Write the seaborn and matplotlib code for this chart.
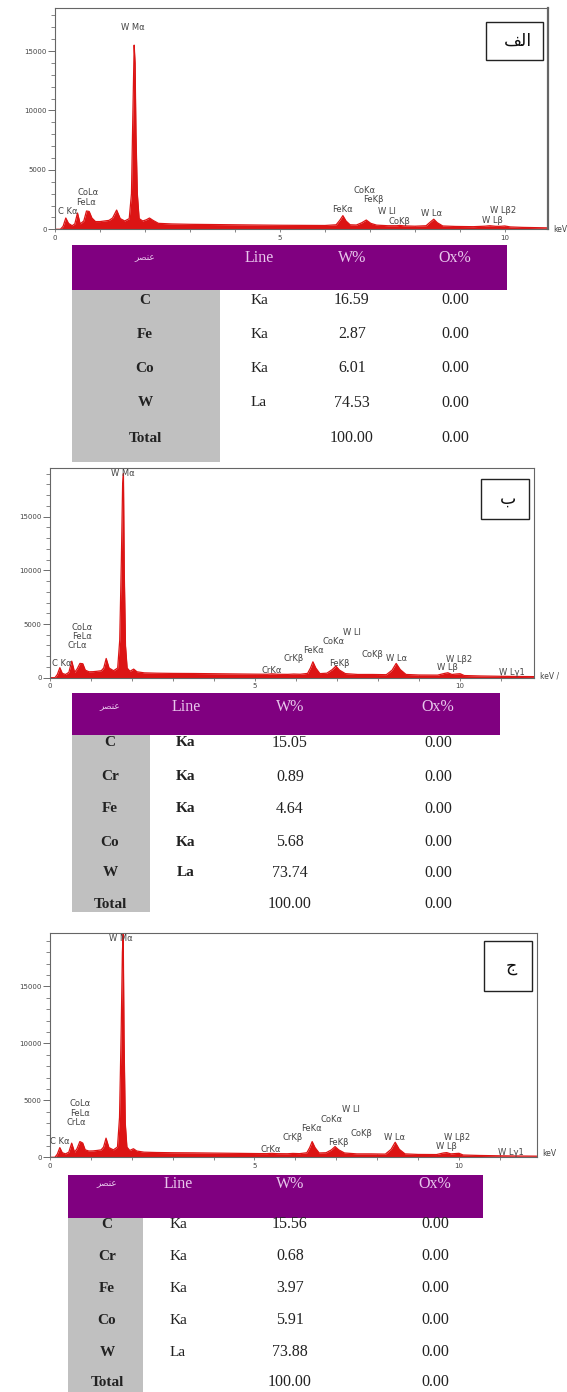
import matplotlib
matplotlib.use("Agg")
import matplotlib.pyplot as plt
from matplotlib.patches import Rectangle
from matplotlib.ticker import MultipleLocator
import seaborn as sns

# ---- spectrum (الف) : energy in keV, counts ----
kev_a = [0.00, 0.12, 0.18, 0.24, 0.30, 0.38, 0.44, 0.50, 0.56, 0.64, 0.70, 0.76,
         0.82, 0.90, 1.00, 1.10, 1.20, 1.28, 1.37, 1.45, 1.55, 1.65, 1.70, 1.73,
         1.76, 1.78, 1.80, 1.83, 1.87, 1.95, 2.03, 2.10, 2.18, 2.30, 2.60, 3.00,
         3.50, 4.00, 4.50, 5.00, 5.50, 6.00, 6.25, 6.33, 6.40, 6.47, 6.56, 6.70,
         6.82, 6.92, 7.02, 7.15, 7.40, 7.60, 7.66, 7.75, 8.00, 8.25, 8.34, 8.42,
         8.50, 8.62, 8.90, 9.30, 9.55, 9.67, 9.80, 9.90, 10.00, 10.12, 10.40, 10.96]
counts_a = [0, 0, 250, 950, 500, 300, 450, 1370, 450, 700, 1540, 1500,
            950, 650, 650, 700, 750, 950, 1620, 900, 700, 900, 3000, 9500,
            15500, 14000, 8000, 3000, 900, 700, 800, 950, 750, 500, 450, 420,
            400, 380, 360, 340, 330, 320, 380, 750, 1150, 700, 380, 360,
            550, 780, 500, 350, 300, 300, 330, 290, 260, 300, 600, 850,
            550, 280, 240, 220, 260, 300, 250, 250, 280, 200, 160, 120]

# ---- spectrum (ب) ----
kev_b = [0.00, 0.12, 0.18, 0.24, 0.30, 0.38, 0.46, 0.53, 0.60, 0.66, 0.73, 0.80,
         0.86, 0.95, 1.05, 1.15, 1.25, 1.31, 1.37, 1.44, 1.55, 1.65, 1.70, 1.74,
         1.77, 1.79, 1.81, 1.84, 1.88, 1.95, 2.04, 2.12, 2.30, 2.60, 3.00, 3.50,
         4.00, 4.50, 5.00, 5.30, 5.41, 5.55, 5.80, 5.94, 6.10, 6.28, 6.35, 6.41,
         6.48, 6.58, 6.75, 6.88, 6.97, 7.06, 7.20, 7.50, 7.86, 8.20, 8.34, 8.44,
         8.54, 8.68, 9.00, 9.45, 9.62, 9.70, 9.80, 9.92, 10.00, 10.10, 10.50, 11.00,
         11.25, 11.80]
counts_b = [0, 0, 300, 930, 400, 300, 500, 1540, 500, 800, 1330, 1300,
            700, 550, 560, 600, 650, 900, 1790, 900, 650, 900, 3500, 11000,
            17900, 19000, 10000, 3000, 900, 600, 800, 550, 450, 420, 400, 390,
            370, 350, 330, 320, 360, 320, 310, 340, 320, 400, 900, 1480,
            900, 380, 420, 750, 1080, 700, 380, 300, 300, 280, 700, 1330,
            750, 300, 250, 240, 400, 460, 300, 350, 370, 200, 160, 130,
            120, 100]

# ---- spectrum (ج) ----
kev_c = [0.00, 0.12, 0.18, 0.24, 0.30, 0.38, 0.46, 0.53, 0.60, 0.66, 0.73, 0.80,
         0.86, 0.95, 1.05, 1.15, 1.25, 1.31, 1.37, 1.44, 1.55, 1.65, 1.70, 1.74,
         1.77, 1.79, 1.81, 1.84, 1.88, 1.95, 2.04, 2.12, 2.30, 2.60, 3.00, 3.50,
         4.00, 4.50, 5.00, 5.30, 5.41, 5.55, 5.80, 5.94, 6.10, 6.28, 6.35, 6.41,
         6.48, 6.58, 6.75, 6.88, 6.97, 7.06, 7.20, 7.50, 7.86, 8.20, 8.34, 8.44,
         8.54, 8.68, 9.00, 9.45, 9.62, 9.70, 9.80, 9.92, 10.00, 10.10, 10.50, 11.00,
         11.25, 11.90]
counts_c = [0, 0, 280, 850, 400, 300, 450, 1240, 450, 750, 1380, 1250,
            650, 550, 560, 600, 650, 900, 1680, 850, 650, 900, 3500, 11000,
            18000, 19600, 10500, 3000, 900, 600, 750, 550, 450, 420, 400, 390,
            370, 350, 330, 320, 350, 320, 310, 340, 320, 400, 850, 1380,
            850, 380, 400, 650, 940, 650, 380, 300, 300, 280, 700, 1320,
            700, 300, 250, 240, 380, 410, 300, 330, 350, 200, 160, 130,
            120, 100]

# ---- peak labels ----
names_a = ["W Mα", "C Kα", "FeLα", "CoLα", "FeKα", "CoKα", "FeKβ", "W Ll",
           "CoKβ", "W Lα", "W Lβ2", "W Lβ"]
lab_kev_a = [1.74, 0.28, 0.70, 0.74, 6.40, 6.88, 7.07, 7.37, 7.65, 8.38, 9.96, 9.72]
lab_cnt_a = [16950, 1460, 2290, 3070, 1630, 3230, 2470, 1490, 650, 1350, 1545, 730]

names_bc = ["W Mα", "CoLα", "FeLα", "CrLα", "C Kα", "CrKα", "CrKβ", "FeKα",
            "CoKα", "W Ll", "FeKβ", "CoKβ", "W Lα", "W Lβ2", "W Lβ", "W Lγ1"]
lab_kev_b = [1.77, 0.79, 0.79, 0.67, 0.29, 5.41, 5.94, 6.43, 6.91, 7.37, 7.06,
             7.86, 8.44, 9.97, 9.69, 11.25]
lab_cnt_b = [19050, 4720, 3860, 3000, 1330, 710, 1790, 2560, 3400, 4170, 1330,
             2160, 1760, 1700, 930, 460]
lab_kev_c = [1.73, 0.73, 0.73, 0.64, 0.24, 5.40, 5.93, 6.39, 6.89, 7.35, 7.04,
             7.62, 8.42, 9.96, 9.69, 11.26]
lab_cnt_c = [19150, 4760, 3880, 3060, 1380, 700, 1735, 2500, 3350, 4180, 1320,
             2120, 1735, 1735, 940, 410]

# ---- quantification tables ----
elements_a = ["C", "Fe", "Co", "W", "Total"]
lines_a = ["Ka", "Ka", "Ka", "La", ""]
wt_a = [16.59, 2.87, 6.01, 74.53, 100.00]
ox_a = [0.00, 0.00, 0.00, 0.00, 0.00]

elements_b = ["C", "Cr", "Fe", "Co", "W", "Total"]
lines_b = ["Ka", "Ka", "Ka", "Ka", "La", ""]
wt_b = [15.05, 0.89, 4.64, 5.68, 73.74, 100.00]
ox_b = [0.00, 0.00, 0.00, 0.00, 0.00, 0.00]

elements_c = ["C", "Cr", "Fe", "Co", "W", "Total"]
lines_c = ["Ka", "Ka", "Ka", "Ka", "La", ""]
wt_c = [15.56, 0.68, 3.97, 5.91, 73.88, 100.00]
ox_c = [0.00, 0.00, 0.00, 0.00, 0.00, 0.00]

header_cols = ["Line", "W%", "Ox%"]
# Arabic written in visual order with presentation forms (no shaping in matplotlib)
header_elem = "\uFEAE\uFEBC\uFEE8\uFECB"          # عنصر
panel_tags = ["\uFED2\uFEDF\uFE8D", "\u0628", "\u062C"]  # الف ، ب ، ج

W, H = 567, 1392
RED = "#dc1414"
PURPLE = "#800080"
SERIF = ["Liberation Serif", "DejaVu Serif"]
ARABIC = ["DejaVu Sans", "Noto Sans"]

sns.set_style("ticks")
plt.rcParams["font.family"] = ["DejaVu Sans"]

fig = plt.figure(figsize=(W / 100, H / 100), dpi=100)


def px_axes(left, top, right, bottom):
    return fig.add_axes([left / W, 1 - bottom / H, (right - left) / W, (bottom - top) / H])


def draw_spectrum(box, xmax, ymax, kev, counts, names, lk, lc, right_lw=0.8):
    ax = px_axes(*box)
    sns.lineplot(x=kev, y=counts, ax=ax, color=RED, lw=0.9, estimator=None)
    ax.fill_between(kev, counts, color=RED, lw=0)
    ax.set_xlim(0, xmax)
    ax.set_ylim(0, ymax)
    ax.set_xticks([0, 5, 10])
    ax.xaxis.set_minor_locator(MultipleLocator(1))
    ax.set_yticks([0, 5000, 10000, 15000])
    ax.yaxis.set_minor_locator(MultipleLocator(1000))
    ax.tick_params(axis="y", which="major", length=5, width=0.6, color="#555",
                   labelsize=5, labelcolor="#444", pad=1)
    ax.tick_params(axis="y", which="minor", length=3, width=0.5, color="#555")
    ax.tick_params(axis="x", which="both", direction="inout", length=4, width=0.5,
                   color="#555", labelsize=5, labelcolor="#444", pad=2)
    for s in ax.spines.values():
        s.set_color("#666")
        s.set_linewidth(0.8)
    ax.spines["right"].set_linewidth(right_lw)
    ax.set_xlabel("")
    ax.set_ylabel("")
    for n, x, y in zip(names, lk, lc):
        ax.text(x, y, n, fontsize=6, color="#444", ha="center", va="center")
    return ax


# panel spectra
draw_spectrum((55, 8.3, 548, 229.3), 10.96, 18600, kev_a, counts_a,
              names_a, lab_kev_a, lab_cnt_a, right_lw=1.6)
draw_spectrum((50, 468.3, 534, 677.7), 11.8, 19500, kev_b, counts_b,
              names_bc, lab_kev_b, lab_cnt_b)
draw_spectrum((50, 933.3, 536.7, 1157.3), 11.9, 19650, kev_c, counts_c,
              names_bc, lab_kev_c, lab_cnt_c)

# overlay in pixel coordinates for tables, tags and unit labels (on top)
ov = fig.add_axes([0, 0, 1, 1])
ov.set_zorder(10)
ov.set_xlim(0, W)
ov.set_ylim(H, 0)
ov.axis("off")


def draw_tag(x0, y0, x1, y1, tag):
    ov.add_patch(Rectangle((x0, y0), x1 - x0, y1 - y0, fc="white", ec="#222", lw=1))
    ov.text((x0 + x1) / 2 + 3, (y0 + y1) / 2, tag, fontsize=12.5, ha="center",
            va="center", color="#111", family=ARABIC)


def draw_table(x0, x1, h_top, h_bot, gray_x1, bottom, head_y, row_ys, col_xs,
               elements, lines, wts, oxs, bold_line=False):
    ov.add_patch(Rectangle((x0, h_top), x1 - x0, h_bot - h_top, fc=PURPLE, ec="none"))
    ov.add_patch(Rectangle((x0, h_bot), gray_x1 - x0, bottom - h_bot, fc="#c0c0c0", ec="none"))
    ov.text(col_xs[0], head_y, header_elem, fontsize=6.5, color="#e8c6ec",
            ha="center", va="center", family=ARABIC)
    for cx, lab in zip(col_xs[1:], header_cols):
        ov.text(cx, head_y, lab, fontsize=11.5, color="#e8c6ec", ha="center",
                va="center", family=SERIF)
    for y, el, ln, w, o in zip(row_ys, elements, lines, wts, oxs):
        ov.text(col_xs[0], y, el, fontsize=11, ha="center", va="center",
                family=SERIF, weight="bold", color="#222")
        ov.text(col_xs[1], y, ln, fontsize=11, ha="center", va="center", family=SERIF,
                weight="bold" if bold_line else "normal", color="#222")
        ov.text(col_xs[2], y, f"{w:.2f}", fontsize=11.5, ha="center", va="center",
                family=SERIF, color="#222")
        ov.text(col_xs[3], y, f"{o:.2f}", fontsize=11.5, ha="center", va="center",
                family=SERIF, color="#222")


# panel الف
draw_tag(486, 22, 543, 60, panel_tags[0])
ov.text(553, 229, "keV", fontsize=5.5, color="#444", va="center")
draw_table(72, 507, 245, 290, 220, 462, 258, [300, 334, 368, 403, 438],
           [145, 259, 352, 455], elements_a, lines_a, wt_a, ox_a)

# panel ب
draw_tag(481, 479, 529, 519, panel_tags[1])
ov.text(540, 676, "keV /", fontsize=5.5, color="#444", va="center")
draw_table(72, 500, 693, 735, 150, 912, 707, [743, 777, 809, 842, 873, 904],
           [110, 186, 290, 438], elements_b, lines_b, wt_b, ox_b, bold_line=True)

# panel ج
draw_tag(484, 941, 532, 991, panel_tags[2])
ov.text(542, 1153, "keV", fontsize=5.5, color="#444", va="center")
draw_table(68, 483, 1175, 1218, 143, 1392, 1184, [1224, 1256, 1288, 1320, 1352, 1382],
           [107, 178, 290, 435], elements_c, lines_c, wt_c, ox_c)

fig.savefig("out.png", dpi=100)
